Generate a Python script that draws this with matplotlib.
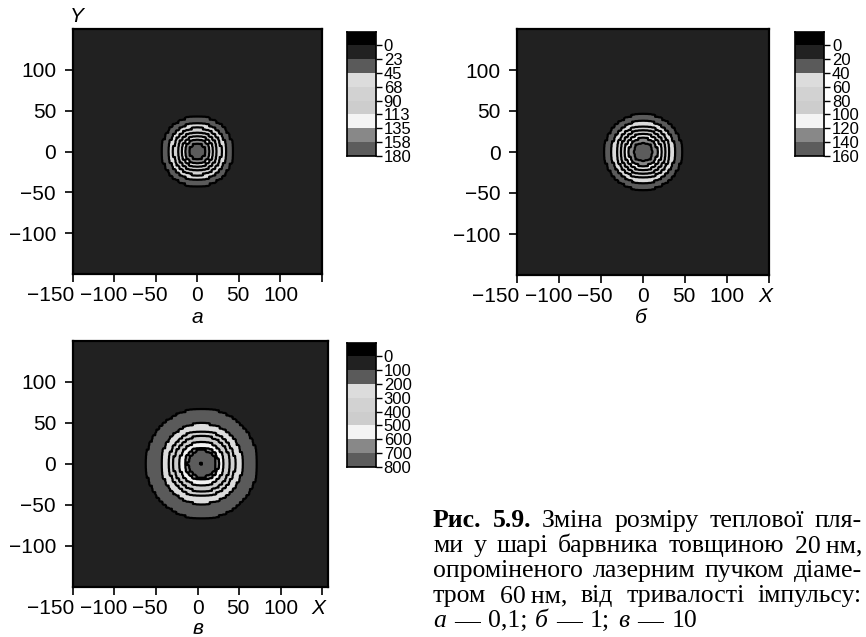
import numpy as np
import matplotlib
matplotlib.use("Agg")
import matplotlib.pyplot as plt
from matplotlib.colors import ListedColormap
from matplotlib.font_manager import FontProperties

# ---- data -------------------------------------------------------------
# temperature levels shown in the colour keys (а, б, в)
levels_a = [0, 22.5, 45, 67.5, 90, 112.5, 135, 157.5, 180]
labels_a = ["0", "23", "45", "68", "90", "113", "135", "158", "180"]
levels_b = [0, 20, 40, 60, 80, 100, 120, 140, 160]
labels_b = ["0", "20", "40", "60", "80", "100", "120", "140", "160"]
levels_c = [0, 100, 200, 300, 400, 500, 600, 700, 800]
labels_c = ["0", "100", "200", "300", "400", "500", "600", "700", "800"]

# radial temperature profiles of the heated spot (radius in nm -> T)
radius_a = [0, 10, 15, 19, 24, 29, 35, 43, 60, 220]
temp_a = [170, 157.5, 135, 112.5, 90, 67.5, 45, 22.5, 8, 5]
radius_b = [0, 12, 17, 22, 27, 32, 38, 46, 62, 220]
temp_b = [150, 140, 120, 100, 80, 60, 40, 20, 8, 5]
radius_c = [0, 5, 17, 20, 27, 34, 40, 49, 67, 85, 220]
temp_c = [690, 735, 705, 600, 500, 400, 300, 200, 100, 40, 20]
centre_a = (0, 0)
centre_b = (0, 0)
centre_c = (5, 0)

# grey shades of the colour key, from "below 0" down to the top interval
band_colors = ["#000000", "#212121", "#5a5a5a", "#dcdcdc", "#d2d2d2",
               "#cdcdcd", "#f4f4f4", "#888888", "#5c5c5c"]

xticks = [-150, -100, -50, 0, 50, 100, 150]
xtick_labels_a = ["\u2212150", "\u2212100", "\u221250", "0", "50", "100", ""]
xtick_labels_bc = ["\u2212150", "\u2212100", "\u221250", "0", "50", "100", "X"]
yticks = [-100, -50, 0, 50, 100]
ytick_labels = ["\u2212100", "\u221250", "0", "50", "100"]

# ---- figure -----------------------------------------------------------
W, H = 866, 637
DPI = 100
fig = plt.figure(figsize=(W / DPI, H / DPI), dpi=DPI)
SANS = "Liberation Sans"
SERIF = "Liberation Serif"
PT = 72.0 / DPI  # points per pixel

# horizontal nudges (px) of the x tick labels, crowded negatives lean left
xlabel_shift = [-22, -11, -6, 0, -1, 0, -4]


def fig_rect(x0, y0, x1, y1):
    """pixel box (top-left origin) -> figure fraction rect"""
    return [x0 / W, 1 - y1 / H, (x1 - x0) / W, (y1 - y0) / H]


# simulation mesh (4 nm cells); each cell is drawn as a flat block
STEP = 4.0
UP = 2
cells = np.arange(-160, 164, STEP)
fine = np.repeat(cells, UP) + np.tile((np.arange(UP) - (UP - 1) / 2) * STEP / UP,
                                      len(cells))
CX, CY = np.meshgrid(cells, cells)
FX, FY = np.meshgrid(fine, fine)


def spot_field(radius, temp, centre):
    r = np.hypot(CX - centre[0], CY - centre[1])
    coarse = np.interp(r, radius, temp)
    return np.repeat(np.repeat(coarse, UP, axis=0), UP, axis=1)


def panel(rect, cbar_rect, levels, labels, radius, temp, centre,
          xlabels, xlim, letter, letter_xy):
    ax = fig.add_axes(fig_rect(*rect))
    field = spot_field(radius, temp, centre)
    ax.contourf(FX, FY, field, levels=levels, colors=band_colors[1:])
    ax.contour(FX, FY, field, levels=levels, colors="black",
               linewidths=1.6)
    ax.set_xlim(*xlim)
    ax.set_ylim(-150, 150)
    ax.set_xticks(xticks)
    ax.set_xticklabels([])
    for v, lab, dx in zip(xticks, xlabels, xlabel_shift):
        ax.annotate(lab, xy=(v, 0), xycoords=ax.get_xaxis_transform(),
                    xytext=(dx * PT, -12 * PT), textcoords="offset points",
                    ha="center", va="top", fontfamily=SANS, fontsize=15,
                    fontstyle="italic" if lab == "X" else "normal",
                    annotation_clip=False)
    ax.set_yticks(yticks)
    ax.set_yticklabels(ytick_labels, fontfamily=SANS, fontsize=15)
    ax.tick_params(direction="out", length=6, width=1.2, pad=6,
                   colors="black")
    for s in ax.spines.values():
        s.set_linewidth(1.6)

    # colour key
    cax = fig.add_axes(fig_rect(*cbar_rect))
    step = levels[1] - levels[0]
    bounds = [levels[0] - step] + list(levels)
    cmap = ListedColormap(band_colors)
    cax.pcolormesh([0, 1], bounds, np.arange(len(band_colors)).reshape(-1, 1),
                   cmap=cmap, vmin=-0.5, vmax=len(band_colors) - 0.5)
    cax.set_ylim(levels[-1], bounds[0])
    cax.set_xlim(0, 1)
    cax.set_xticks([])
    cax.yaxis.tick_right()
    cax.set_yticks(levels)
    cax.set_yticklabels(labels, fontfamily=SANS, fontsize=12)
    cax.tick_params(axis="y", direction="out", length=4, width=1.0, pad=1.5)
    for s in cax.spines.values():
        s.set_linewidth(1.2)

    fig.text(letter_xy[0] / W, 1 - letter_xy[1] / H, letter,
             fontfamily=SANS, fontstyle="italic", fontsize=15,
             ha="center", va="center")
    return ax


panel((72.7, 29, 322.0, 274), (346.7, 31.7, 376, 155.7),
      levels_a, labels_a, radius_a, temp_a, centre_a,
      xtick_labels_a, (-150, 150), "а", (197.7, 318))
panel((517.3, 29, 769, 275), (795, 31.7, 824.3, 155.7),
      levels_b, labels_b, radius_b, temp_b, centre_b,
      xtick_labels_bc, (-150, 149), "б", (641, 318))
panel((72.7, 340.7, 328.3, 586.7), (346.7, 342.7, 376, 466.7),
      levels_c, labels_c, radius_c, temp_c, centre_c,
      xtick_labels_bc, (-150, 157), "в", (197.7, 628))

fig.text(76.7 / W, 1 - 16.7 / H, "Y", fontfamily=SANS, fontstyle="italic",
         fontsize=15, ha="center", va="center")

# ---- caption (justified block) ---------------------------------------
CAP = 18.5
fp_reg = FontProperties(family=SERIF, size=CAP)
fp_bold = FontProperties(family=SERIF, size=CAP, weight="bold")
fp_it = FontProperties(family=SERIF, size=CAP, style="italic")

caption = [
    [("Рис.", fp_bold), ("5.9.", fp_bold), ("Зміна", fp_reg),
     ("розміру", fp_reg), ("теплової", fp_reg), ("пля-", fp_reg)],
    [("ми", fp_reg), ("у", fp_reg), ("шарі", fp_reg), ("барвника", fp_reg),
     ("товщиною", fp_reg), ("20\u2009нм,", fp_reg)],
    [("опроміненого", fp_reg), ("лазерним", fp_reg), ("пучком", fp_reg),
     ("діаме-", fp_reg)],
    [("тром", fp_reg), ("60\u2009нм,", fp_reg), ("від", fp_reg),
     ("тривалості", fp_reg), ("імпульсу:", fp_reg)],
    [("а", fp_it), ("—", fp_reg), ("0,1;", fp_reg), ("б", fp_it),
     ("—", fp_reg), ("1;", fp_reg), ("в", fp_it), ("—", fp_reg),
     ("10", fp_reg)],
]
line_right = [862, 862, 862, 862, None]
baselines = [527, 552, 577, 602, 627]
x_left = 433
space = 8.0

renderer = fig.canvas.get_renderer()
for words, x_right, base in zip(caption, line_right, baselines):
    items = []
    for w, fp in words:
        t = fig.text(0, 1 - base / H, w, fontproperties=fp, va="baseline",
                     ha="left")
        items.append(t)
    widths = [t.get_window_extent(renderer).width for t in items]
    if x_right is None:
        gap = space
    else:
        gap = (x_right - x_left - sum(widths)) / (len(items) - 1)
    x = x_left
    for t, w in zip(items, widths):
        t.set_x(x / W)
        x += w + gap

fig.savefig("out.png", dpi=DPI)
